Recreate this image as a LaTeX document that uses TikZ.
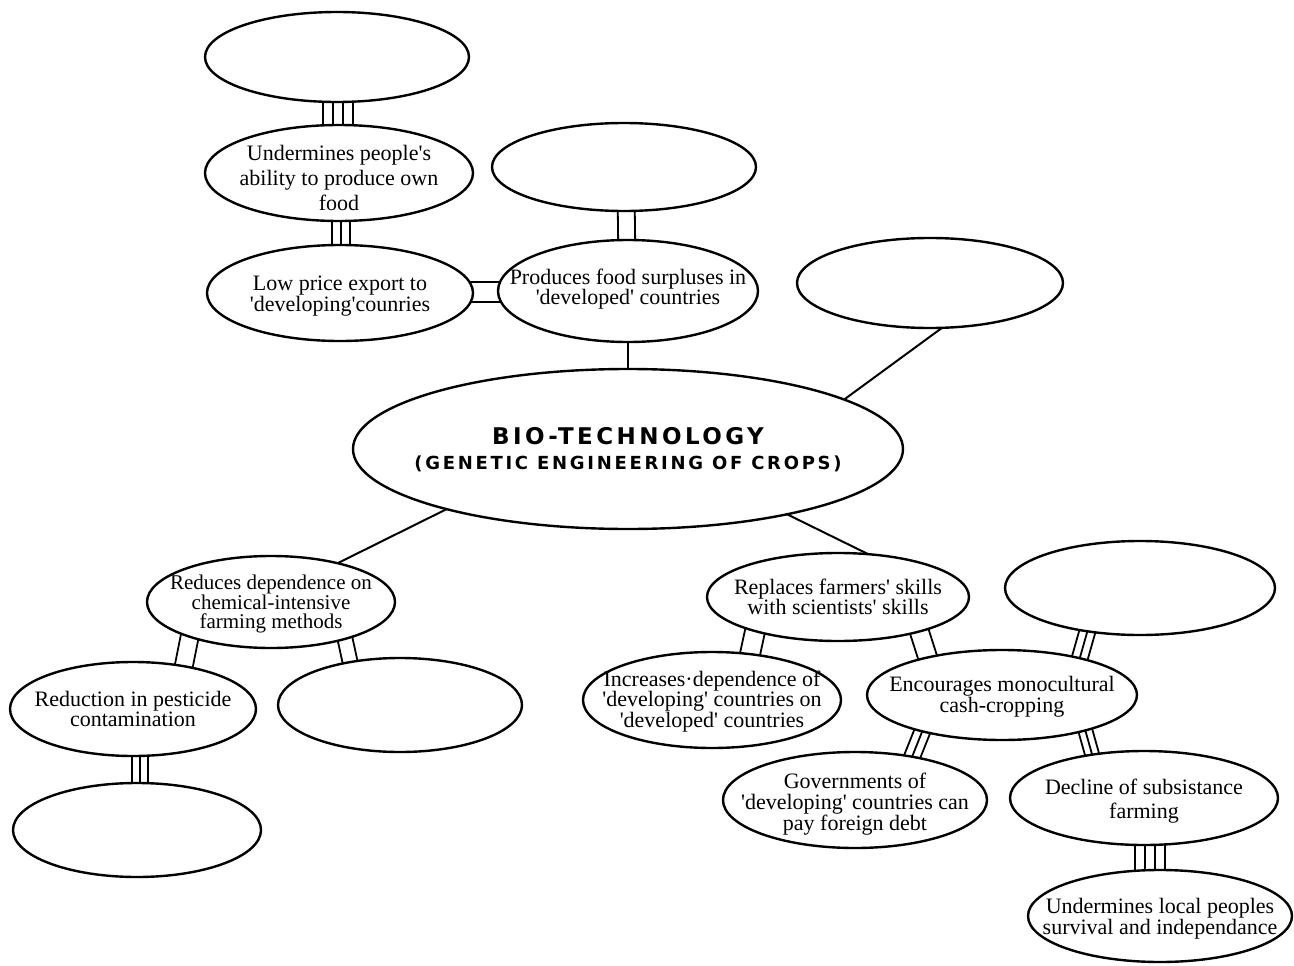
\documentclass[tikz,border=0pt]{standalone}
\usepackage{fontspec}
\setmainfont{Liberation Serif}
\newfontfamily\headfont[LetterSpace=15]{DejaVu Sans}
\usetikzlibrary{shapes.geometric,calc,backgrounds}

\tikzset{
  bub/.style={ellipse, draw, line width=2.4pt, fill=white, inner sep=0pt},
  lab/.style={font=\fontsize{22}{20}\selectfont, align=center, inner sep=0pt},
  rail/.style={line width=1.8pt},
  link/.style={line width=2pt},
}

% straight single quote
\newcommand\q{\textquotesingle}
% parallel rails between two named points; #3 = list of side offsets
\newcommand\rails[3]{\foreach \rr in {#3}{\draw[rail] ($(#1)!\rr!90:(#2)$) -- ($(#2)!\rr!-90:(#1)$);}}

\begin{document}
\begin{tikzpicture}[x=1pt,y=-1pt]
\useasboundingbox (0,0) rectangle (1294,966);

% ---- bubbles ----
\node[bub, minimum width=264pt, minimum height=90pt] (tl) at (337,57) {};
\node[bub, minimum width=268pt, minimum height=96pt,
  label={[lab, font=\fontsize{22}{25}\selectfont, yshift=-5pt]center:{Undermines people\q s\\ability to produce own\\food}}] (und) at (339,173) {};
\node[bub, minimum width=266pt, minimum height=96pt,
  label={[lab, font=\fontsize{22}{19}\selectfont, yshift=-3pt]center:{Low price export to\\\q developing\q counries}}] (low) at (340,293) {};
\node[bub, minimum width=264pt, minimum height=88pt] (bl2) at (624,167) {};
\node[bub, minimum width=260pt, minimum height=102pt,
  label={[lab, yshift=2pt]center:{Produces food surpluses in\\\q developed\q{} countries}}] (prod) at (628,291) {};
\node[bub, minimum width=266pt, minimum height=90pt] (ur) at (930,283) {};

\node[bub, minimum width=550pt, minimum height=160pt,
  label={[align=center, inner sep=0pt, yshift=-1pt, font=\headfont\bfseries\fontsize{23}{25}\selectfont]center:{BIO-TECHNOLOGY\\\fontsize{18}{25}\selectfont (GENETIC ENGINEERING OF CROPS)}}] (cen) at (628,449) {};

\node[bub, minimum width=248pt, minimum height=92pt,
  label={[lab, font=\fontsize{21}{19}\selectfont, yshift=-2pt]center:{Reduces dependence on\\chemical-intensive\\farming methods}}] (red) at (271,602) {};
\node[bub, minimum width=246pt, minimum height=94pt,
  label={[lab]center:{Reduction in pesticide\\contamination}}] (rdn) at (133,709) {};
\node[bub, minimum width=244pt, minimum height=94pt] (brt) at (400,705) {};
\node[bub, minimum width=248pt, minimum height=94pt] (bot) at (137,830) {};

\node[bub, minimum width=262pt, minimum height=88pt,
  label={[lab]center:{Replaces farmers\q{} skills\\with scientists\q{} skills}}] (rep) at (838,597) {};
\node[bub, minimum width=258pt, minimum height=96pt,
  label={[lab, yshift=-2pt]center:{Increases·dependence of\\\q developing\q{} countries on\\\q developed\q{} countries}}] (inc) at (712,700) {};
\node[bub, minimum width=270pt, minimum height=90pt,
  label={[lab, yshift=-2pt]center:{Encourages monocultural\\cash-cropping}}] (enc) at (1002,695) {};
\node[bub, minimum width=264pt, minimum height=96pt,
  label={[lab, font=\fontsize{22}{21}\selectfont, yshift=-4pt]center:{Governments of\\\q developing\q{} countries can\\pay foreign debt}}] (gov) at (855,800) {};
\node[bub, minimum width=270pt, minimum height=94pt] (trb) at (1140,588) {};
\node[bub, minimum width=268pt, minimum height=94pt,
  label={[lab, font=\fontsize{22}{24}\selectfont, yshift=-3pt]center:{Decline of subsistance\\farming}}] (dec) at (1144,798) {};
\node[bub, minimum width=264pt, minimum height=92pt,
  label={[lab, font=\fontsize{22}{18}\selectfont, yshift=-3pt]center:{Undermines local peoples\\survival and independance}}] (ulp) at (1160,916) {};

% ---- connectors, drawn beneath the bubbles ----
\begin{pgfonlayer}{background}
\fill[white] (0,0) rectangle (1294,966);

% single links from the central bubble
\coordinate (l1a) at ($(cen.center)+(0,-29)$);   \coordinate (l1b) at ($(prod.center)+(0,29)$);
\coordinate (l2a) at ($(cen.center)+(195,-34)$); \coordinate (l2b) at ($(ur.center)+(20,39)$);
\coordinate (l3a) at ($(cen.center)+(-161,50)$); \coordinate (l3b) at ($(red.center)+(59,-35)$);
\coordinate (l4a) at ($(cen.center)+(128,50)$);  \coordinate (l4b) at ($(rep.center)+(38,-39)$);
\draw[link] (l1a) -- (l1b);
\draw[link] (l2a) -- (l2b);
\draw[link] (l3a) -- (l3b);
\draw[link] (l4a) -- (l4b);

% rails
\coordinate (r1a) at ($(tl.center)+(1,28)$);    \coordinate (r1b) at ($(und.center)+(-1,-28)$);
\rails{r1a}{r1b}{-15pt,-5pt,5pt,15pt}
\coordinate (r2a) at ($(und.center)+(2,27)$);   \coordinate (r2b) at ($(low.center)+(1,-25)$);
\rails{r2a}{r2b}{-9pt,0pt,9pt}
\coordinate (r3a) at ($(low.center)+(100,-1)$); \coordinate (r3b) at ($(prod.center)+(-98,1)$);
\rails{r3a}{r3b}{-10pt,10pt}
\coordinate (r4a) at ($(bl2.center)+(2,23)$);   \coordinate (r4b) at ($(prod.center)+(-1,-26)$);
\rails{r4a}{r4b}{-8.5pt,8.5pt}
\coordinate (r5a) at ($(red.center)+(-79,23)$); \coordinate (r5b) at ($(rdn.center)+(47,-24)$);
\rails{r5a}{r5b}{-9pt,9pt}
\coordinate (r6a) at ($(red.center)+(71,23)$);  \coordinate (r6b) at ($(brt.center)+(-46,-25)$);
\rails{r6a}{r6b}{-7.5pt,7.5pt}
\coordinate (r7a) at ($(rdn.center)+(7,26)$);   \coordinate (r7b) at ($(bot.center)+(3,-25)$);
\rails{r7a}{r7b}{-8pt,0pt,8pt}
\coordinate (r8a) at ($(rep.center)+(-81,25)$); \coordinate (r8b) at ($(inc.center)+(35,-32)$);
\rails{r8a}{r8b}{-10pt,10pt}
\coordinate (r9a) at ($(rep.center)+(77,21)$);  \coordinate (r9b) at ($(enc.center)+(-71,-27)$);
\rails{r9a}{r9b}{-9.5pt,9.5pt}
\coordinate (r10a) at ($(enc.center)+(-76,27)$); \coordinate (r10b) at ($(gov.center)+(49,-23)$);
\rails{r10a}{r10b}{-8pt,0pt,8pt}
\coordinate (r11a) at ($(trb.center)+(-48,27)$); \coordinate (r11b) at ($(enc.center)+(73,-20)$);
\rails{r11a}{r11b}{-8pt,0pt,8pt}
\coordinate (r12a) at ($(enc.center)+(79,20)$);  \coordinate (r12b) at ($(dec.center)+(-47,-26)$);
\rails{r12a}{r12b}{-7pt,0pt,7pt}
\coordinate (r13a) at ($(dec.center)+(6,22)$);   \coordinate (r13b) at ($(ulp.center)+(-10,-21)$);
\rails{r13a}{r13b}{-15pt,-5pt,5pt,15pt}
\end{pgfonlayer}
\end{tikzpicture}
\end{document}
